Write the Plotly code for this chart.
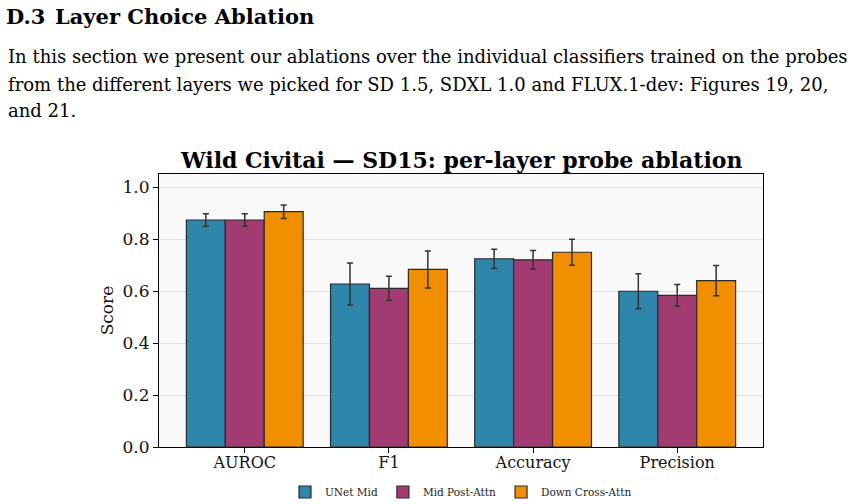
import plotly.graph_objects as go

categories = ["AUROC", "F1", "Accuracy", "Precision"]
series_names = ["UNet Mid", "Mid Post-Attn", "Down Cross-Attn"]
unet_mid = [0.873, 0.627, 0.724, 0.599]
unet_mid_err = [0.024, 0.081, 0.037, 0.067]
mid_post = [0.873, 0.610, 0.720, 0.583]
mid_post_err = [0.024, 0.047, 0.036, 0.042]
down_cross = [0.905, 0.683, 0.749, 0.640]
down_cross_err = [0.026, 0.071, 0.050, 0.058]
colors = ["#2E86AB", "#A23B72", "#F18F01"]
y_ticks = [0.0, 0.2, 0.4, 0.6, 0.8, 1.0]

W, H = 862, 504
L, R, T, B = 159, 99, 174, 57
PH = H - T - B
PW = W - L - R

def py(y_px):
    return (H - B - y_px) / PH

def px(x_px):
    return (x_px - L) / PW

fig = go.Figure()
for name, vals, errs, col in zip(series_names, [unet_mid, mid_post, down_cross],
                                 [unet_mid_err, mid_post_err, down_cross_err], colors):
    fig.add_trace(go.Bar(
        name=name, x=categories, y=vals,
        marker=dict(color=col, line=dict(color="#2a2a2a", width=1.2)),
        error_y=dict(type="data", array=errs, visible=True, color="#333333",
                     thickness=1.5, width=3),
    ))

serif = "DejaVu Serif"
fig.update_layout(
    width=W, height=H,
    margin=dict(l=L, r=R, t=T, b=B, pad=0, autoexpand=False),
    paper_bgcolor="white", plot_bgcolor="#f9f9f9",
    barmode="group", bargap=0.19, bargroupgap=0,
    showlegend=True,
    legend=dict(orientation="h", x=0.5, xanchor="center", y=py(492), yanchor="middle",
                font=dict(family=serif, size=10.5, color="#222"),
                itemwidth=30, bgcolor="rgba(0,0,0,0)", tracegroupgap=0),
    font=dict(family=serif, color="black"),
)
fig.update_xaxes(
    range=[-0.595, 3.595], showline=True, linecolor="black", linewidth=1, mirror=True,
    ticks="outside", ticklen=5, tickwidth=1, tickcolor="black",
    tickfont=dict(family=serif, size=16, color="#111"), showgrid=False,
    ticklabelstandoff=-4,
)
fig.update_yaxes(
    range=[0, 1.05], tickvals=y_ticks, ticktext=[f"{v:.1f}" for v in y_ticks],
    showline=True, linecolor="black", linewidth=1, mirror=True,
    ticks="outside", ticklen=5, tickwidth=1, tickcolor="black",
    tickfont=dict(family=serif, size=17, color="#111"),
    showgrid=True, gridcolor="#e1e1e1", gridwidth=1, zeroline=False,
    title=dict(text="Score", font=dict(family=serif, size=17, color="#111"), standoff=4),
)

page_font = "DejaVu Serif"
body_size = 18
annots = [
    dict(text="<b>Wild Civitai — SD15: per-layer probe ablation</b>", x=px(461), y=py(160),
         xanchor="center", yanchor="middle", font=dict(family=serif, size=22, color="black")),
    dict(text="<b>D.3</b>", x=px(4), y=py(16), xanchor="left", yanchor="middle",
         font=dict(family=page_font, size=21, color="black")),
    dict(text="<b>Layer Choice Ablation</b>", x=px(53), y=py(16), xanchor="left", yanchor="middle",
         font=dict(family=page_font, size=21, color="black")),
    dict(text="In this section we present our ablations over the individual classifiers trained on the probes",
         x=px(6), y=py(57), xanchor="left", yanchor="middle",
         font=dict(family=page_font, size=body_size, color="black")),
    dict(text="from the different layers we picked for SD 1.5, SDXL 1.0 and FLUX.1-dev: Figures 19, 20,",
         x=px(6), y=py(84), xanchor="left", yanchor="middle",
         font=dict(family=page_font, size=body_size, color="black")),
    dict(text="and 21.", x=px(6), y=py(111), xanchor="left", yanchor="middle",
         font=dict(family=page_font, size=body_size, color="black")),
]
for a in annots:
    fig.add_annotation(xref="paper", yref="paper", showarrow=False, **a)

fig.write_html("out.html")
